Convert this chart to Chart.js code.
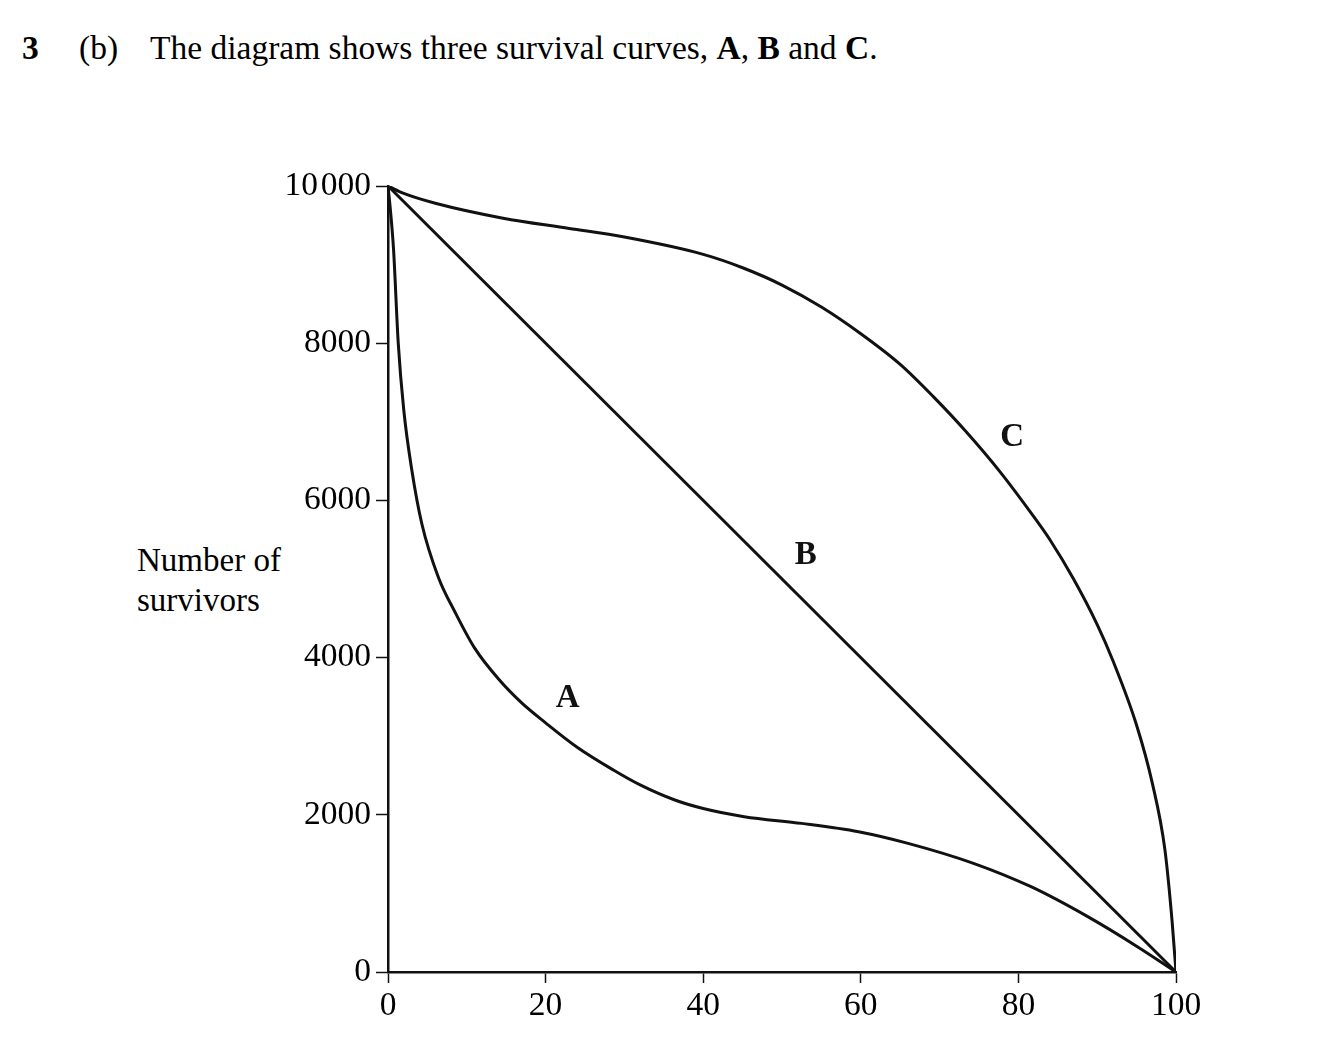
<!DOCTYPE html>
<html>
<head>
<meta charset="utf-8">
<script src="https://cdn.jsdelivr.net/npm/chart.js@4/dist/chart.umd.min.js"></script>
<style>
  html, body { margin: 0; padding: 0; background: #fff; }
  body { width: 1334px; height: 1040px; position: relative; overflow: hidden;
         font-family: 'Liberation Serif', 'Times New Roman', serif; color: #000; }
  #wrap { position: absolute; left: 0; top: 0; width: 1334px; height: 1040px; }
  .txt { position: absolute; font-size: 33.5px; line-height: 1; white-space: nowrap; }
  .ylab { position: absolute; left: 137px; top: 540px; font-size: 33px; line-height: 40px; }
</style>
</head>
<body>
<div class="txt" style="left:22px; top:31px;"><b>3</b></div>
<div class="txt" style="left:79px; top:31px;">(b)</div>
<div class="txt" style="left:150px; top:31px;">The diagram shows three survival curves, <b>A</b>, <b>B</b> and <b>C</b>.</div>
<div class="ylab">Number of<br>survivors</div>
<div id="wrap"><canvas id="chart" width="1334" height="1040"></canvas></div>
<script>
// age (x) and survivors (y)
const ageA = [0, 0.3, 0.7, 1.3, 2, 3, 4.3, 6.4, 8.5, 11, 14, 17, 20, 24, 28.6, 32, 36.4, 40, 45.2, 52.5, 59.7, 66, 74.3, 81.6, 88.8, 95.1, 100]
const survA = [10000, 9700, 9200, 8000, 7150, 6400, 5700, 5020, 4580, 4120, 3730, 3420, 3170, 2860, 2570, 2380, 2188, 2080, 1976, 1891, 1785, 1637, 1383, 1085, 704, 322, 0]

const ageB = [0, 100]
const survB = [10000, 0]

const ageC = [0, 2, 6, 14.6, 23, 30, 40, 45, 50, 55, 60, 65, 69.2, 73.4, 77.7, 81.9, 84, 87, 90, 92, 95, 97, 98.6, 99.5, 100]
const survC = [10000, 9905, 9780, 9590, 9460, 9350, 9130, 8960, 8740, 8460, 8120, 7730, 7320, 6870, 6360, 5800, 5500, 5000, 4420, 3960, 3140, 2400, 1550, 650, 0]

const xTicks = [0, 20, 40, 60, 80, 100]
const yTicks = [0, 2000, 4000, 6000, 8000, 10000]

const curveNames = ['A', 'B', 'C']
const namePos = [[22.8, 3486], [53.0, 5305], [79.2, 6806]]

const serif = "'Liberation Serif', 'Times New Roman', serif"
const ink = '#111'

const toPoints = (xs, ys) => xs.map((x, i) => ({ x: x, y: ys[i] }))

const curveLabels = {
  id: 'curveLabels',
  afterDatasetsDraw(chart) {
    const { ctx, scales } = chart
    ctx.save()
    ctx.font = 'bold 33px ' + serif
    ctx.fillStyle = ink
    ctx.textAlign = 'center'
    ctx.textBaseline = 'middle'
    curveNames.forEach((n, i) => {
      ctx.fillText(n, scales.x.getPixelForValue(namePos[i][0]), scales.y.getPixelForValue(namePos[i][1]))
    })
    ctx.restore()
  }
}

const line = (xs, ys, smooth) => ({
  data: toPoints(xs, ys),
  borderColor: ink,
  borderWidth: 3,
  pointRadius: 0,
  fill: false,
  tension: 0,
  cubicInterpolationMode: smooth ? 'monotone' : 'default'
})

new Chart(document.getElementById('chart'), {
  type: 'line',
  data: {
    datasets: [
      line(ageA, survA, true),
      line(ageB, survB, false),
      line(ageC, survC, true)
    ]
  },
  options: {
    responsive: false,
    animation: false,
    layout: { padding: { left: 268, right: 158, top: 186, bottom: 8 } },
    plugins: { legend: { display: false }, tooltip: { enabled: false } },
    scales: {
      x: {
        type: 'linear',
        min: 0,
        max: 100,
        afterBuildTicks: (s) => { s.ticks = xTicks.map(v => ({ value: v })) },
        afterFit: (s) => { s.height = 60 },
        border: { display: true, color: ink, width: 2.5 },
        grid: { drawOnChartArea: false, drawTicks: true, tickLength: 11, tickColor: ink, tickWidth: 1.5 },
        ticks: { color: '#000', padding: 3, font: { family: serif, size: 33.5 }, maxRotation: 0 }
      },
      y: {
        type: 'linear',
        min: 0,
        max: 10000,
        afterBuildTicks: (s) => { s.ticks = yTicks.map(v => ({ value: v })) },
        afterFit: (s) => { s.width = 120 },
        border: { display: true, color: ink, width: 2.5 },
        grid: { drawOnChartArea: false, drawTicks: true, tickLength: 12, tickColor: ink, tickWidth: 1.5 },
        ticks: {
          color: '#000',
          padding: 5,
          font: { family: serif, size: 33.5 },
          callback: (v) => v >= 10000 ? String(v).slice(0, 2) + '\u200A' + String(v).slice(2) : String(v)
        }
      }
    }
  },
  plugins: [curveLabels]
})
</script>
</body>
</html>
